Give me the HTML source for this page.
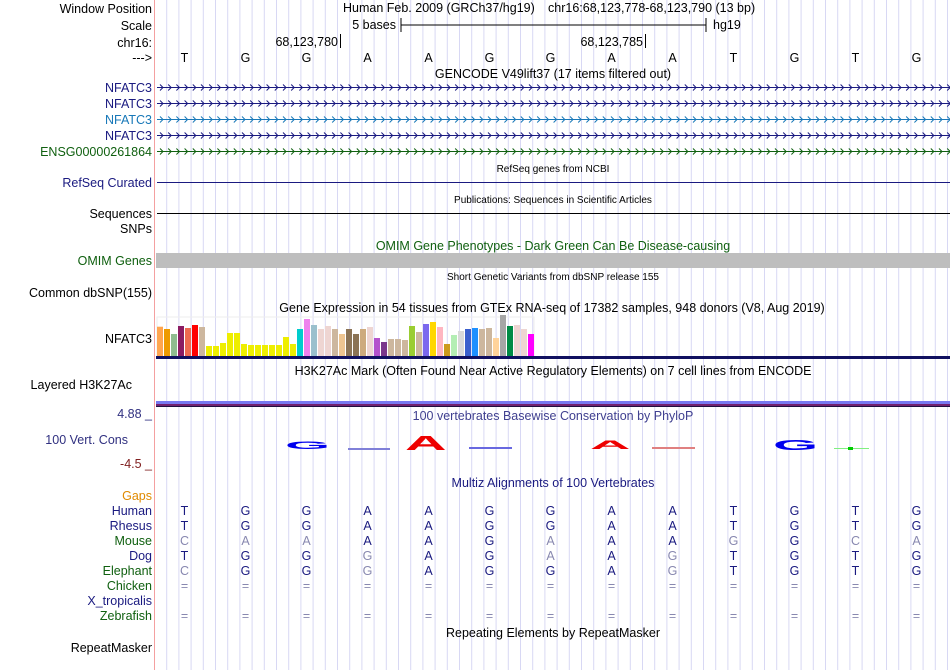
<!DOCTYPE html>
<html><head><meta charset="utf-8"><style>
body{margin:0;background:#fff}
svg{display:block;font-family:"Liberation Sans",sans-serif}
</style></head><body>
<svg id="c" width="950" height="670" viewBox="0 0 950 670">
<rect x="0" y="0" width="950" height="670" fill="#fff"/>
<g id="guides"></g>
<line x1="154.5" y1="0" x2="154.5" y2="670" stroke="#f4a0a0"/>
<g font-size="12.5" text-anchor="end">
<text x="152" y="13" fill="#000">Window Position</text>
<text x="152" y="30" fill="#000">Scale</text>
<text x="152" y="47" fill="#000">chr16:</text>
<text x="152" y="62" fill="#000">---&gt;</text>
<text x="152" y="92" fill="#1a1a80">NFATC3</text>
<text x="152" y="108" fill="#1a1a80">NFATC3</text>
<text x="152" y="124" fill="#1878b8">NFATC3</text>
<text x="152" y="140" fill="#1a1a80">NFATC3</text>
<text x="152" y="156" fill="#106010">ENSG00000261864</text>
<text x="152" y="187" fill="#1a1a80">RefSeq Curated</text>
<text x="152" y="218" fill="#000">Sequences</text>
<text x="152" y="233" fill="#000">SNPs</text>
<text x="152" y="265" fill="#106010">OMIM Genes</text>
<text x="152" y="297" fill="#000">Common dbSNP(155)</text>
<text x="152" y="343" fill="#000">NFATC3</text>
<text x="132" y="389" fill="#000">Layered H3K27Ac</text>
<text x="152" y="418" fill="#303080">4.88 _</text>
<text x="128" y="444" fill="#303080">100 Vert. Cons</text>
<text x="152" y="468" fill="#802020">-4.5 _</text>
<text x="152" y="500" fill="#e08a00">Gaps</text>
<text x="152" y="515" fill="#1a1a80">Human</text>
<text x="152" y="530" fill="#1a1a80">Rhesus</text>
<text x="152" y="545" fill="#106010">Mouse</text>
<text x="152" y="560" fill="#1a1a80">Dog</text>
<text x="152" y="575" fill="#106010">Elephant</text>
<text x="152" y="590" fill="#106010">Chicken</text>
<text x="152" y="605" fill="#1a1a80">X_tropicalis</text>
<text x="152" y="620" fill="#106010">Zebrafish</text>
<text x="152" y="652" fill="#000">RepeatMasker</text>
</g>
<g font-size="12.5" fill="#000">
<text x="343" y="12">Human Feb. 2009 (GRCh37/hg19)</text>
<text x="548" y="12">chr16:68,123,778-68,123,790 (13 bp)</text>
<text x="396" y="29" text-anchor="end">5 bases</text>
<line x1="401" y1="25" x2="706" y2="25" stroke="#000"/>
<line x1="401" y1="18" x2="401" y2="32" stroke="#000"/>
<line x1="706" y1="18" x2="706" y2="32" stroke="#000"/>
<text x="713" y="29">hg19</text>
<text x="338" y="46" text-anchor="end">68,123,780</text>
<line x1="340.5" y1="34" x2="340.5" y2="48" stroke="#000"/>
<text x="643" y="46" text-anchor="end">68,123,785</text>
<line x1="645.5" y1="34" x2="645.5" y2="48" stroke="#000"/>
<text x="553" y="78" text-anchor="middle">GENCODE V49lift37 (17 items filtered out)</text>
</g>
<g id="bases" font-size="12.5" text-anchor="middle"></g>
<g id="genes"></g>
<g font-size="10" fill="#000" text-anchor="middle">
<text x="553" y="172">RefSeq genes from NCBI</text>
<text x="553" y="203">Publications: Sequences in Scientific Articles</text>
<text x="553" y="280">Short Genetic Variants from dbSNP release 155</text>
</g>
<line x1="157" y1="182.5" x2="950" y2="182.5" stroke="#1a1a80"/>
<line x1="157" y1="213.5" x2="950" y2="213.5" stroke="#000"/>
<text x="553" y="250" font-size="12.5" fill="#106010" text-anchor="middle">OMIM Gene Phenotypes - Dark Green Can Be Disease-causing</text>
<rect x="156" y="253" width="794" height="15" fill="#bebebe"/>
<text x="552" y="312" font-size="12.5" fill="#000" text-anchor="middle">Gene Expression in 54 tissues from GTEx RNA-seq of 17382 samples, 948 donors (V8, Aug 2019)</text>
<rect x="157" y="317" width="377" height="40" fill="none" stroke="#eee"/>
<g id="gtex"></g>
<rect x="156" y="356" width="794" height="3" fill="#101060"/>
<text x="553" y="375" font-size="12.5" fill="#000" text-anchor="middle">H3K27Ac Mark (Often Found Near Active Regulatory Elements) on 7 cell lines from ENCODE</text>
<rect x="156" y="401" width="794" height="3" fill="#7878f0"/>
<rect x="156" y="404" width="794" height="2" fill="#702070"/>
<rect x="156" y="406" width="794" height="1" fill="#201040"/>
<text x="553" y="420" font-size="12.5" fill="#404090" text-anchor="middle">100 vertebrates Basewise Conservation by PhyloP</text>
<g font-family="Liberation Sans,sans-serif" font-weight="bold">
<text x="0" y="0" font-size="20" fill="#0000ee" transform="translate(285,449) scale(2.9,0.55)">G</text>
<rect x="348" y="448" width="42" height="2" fill="#8080d8"/>
<text x="0" y="0" font-size="24" fill="#ee0000" transform="translate(405,450) scale(2.4,0.85)">A</text>
<rect x="469" y="447" width="43" height="2" fill="#6868e0"/>
<text x="0" y="0" font-size="20" fill="#ee0000" transform="translate(590,449) scale(2.8,0.6)">A</text>
<rect x="652" y="447" width="43" height="2" fill="#e08080"/>
<text x="0" y="0" font-size="20" fill="#0000ee" transform="translate(773,450) scale(2.9,0.72)">G</text>
<rect x="834" y="448" width="35" height="1" fill="#80f080"/>
<rect x="848" y="447" width="5" height="3" fill="#00cc00"/>
</g>
<text x="553" y="487" font-size="12.5" fill="#1a1a80" text-anchor="middle">Multiz Alignments of 100 Vertebrates</text>
<g id="align" font-size="12.5" text-anchor="middle"></g>
<text x="553" y="637" font-size="12.5" fill="#000" text-anchor="middle">Repeating Elements by RepeatMasker</text>
</svg>
<script>
const NS='http://www.w3.org/2000/svg';
const bases=['T','G','G','A','A','G','G','A','A','T','G','T','G'];
const alignRows=[
 ['T','G','G','A','A','G','G','A','A','T','G','T','G'],
 ['T','G','G','A','A','G','G','A','A','T','G','T','G'],
 ['C','A','A','A','A','G','A','A','A','G','G','C','A'],
 ['T','G','G','G','A','G','A','A','G','T','G','T','G'],
 ['C','G','G','G','A','G','G','A','G','T','G','T','G'],
 ['=','=','=','=','=','=','=','=','=','=','=','=','='],
 ['','','','','','','','','','','','',''],
 ['=','=','=','=','=','=','=','=','=','=','=','=','=']
];
const gtexValues=[29.3,27,22,30,28,31,29,10,10,13,23,23,12,11,11,11,11,11,19,12,27,37,31,27,30,27,22,27,22,27,29,18,14,17,17,16,30,24,32,34,29,12,21,25,27,28,27,28,18,41,30,31,27,22];
const gtexColors=['#FFA54F','#EE9A00','#8FBC8F','#8B1C62','#EE6A50','#FF0000','#CDB79E','#EEEE00','#EEEE00','#EEEE00','#EEEE00','#EEEE00','#EEEE00','#EEEE00','#EEEE00','#EEEE00','#EEEE00','#EEEE00','#EEEE00','#EEEE00','#00CDCD','#EE82EE','#9AC0CD','#EED5D2','#EED5D2','#CDB79E','#EEC591','#8B7355','#8B7355','#CDAA7D','#EED5D2','#B452CD','#7A378B','#CDB79E','#CDB79E','#CDB79E','#9ACD32','#CDB79E','#7B68EE','#FFD700','#FFB6C1','#CD9B1D','#B4EEB4','#D9D9D9','#3A5FCD','#1E90FF','#CDB79E','#CDB79E','#FFD39B','#A6A6A6','#008B45','#EED5D2','#EED5D2','#FF00FF'];
const X0=157,BW=61;
function xBase(i){return X0+BW*(i+0.5)-3;}
function el(tag,attrs,parent){const e=document.createElementNS(NS,tag);for(const k in attrs)e.setAttribute(k,attrs[k]);parent.appendChild(e);return e;}
const g=document.getElementById('guides');
for(let x=166.7;x<950;x+=12.2){const l=el('line',{x1:x.toFixed(1),y1:0,x2:x.toFixed(1),y2:670,stroke:'#d8d8f4'},g);

}
const bg=document.getElementById('bases');
bases.forEach((b,i)=>{const t=el('text',{x:xBase(i),y:62,fill:'#000'},bg);t.textContent=b;

});
const gg=document.getElementById('genes');
const gy=[87,103,119,135,151],gc=['#1a1a80','#1a1a80','#1878b8','#1a1a80','#106010'];
gy.forEach((y,k)=>{
 const row=el('g',{},gg);
 
 
 el('line',{x1:157,y1:y+0.5,x2:950,y2:y+0.5,stroke:gc[k]},row);
 let d='';for(let x=160;x<948;x+=8.2){d+=`M${x.toFixed(1)} ${y-2.5}L${(x+3).toFixed(1)} ${y+0.5}L${x.toFixed(1)} ${y+3.5}`;}
 el('path',{d:d,stroke:gc[k],fill:'none','stroke-width':1},row);
});
const gb=document.getElementById('gtex');
const base=356,scale=1.0;
gtexValues.forEach((v,i)=>{const h=v*scale;const r=el('rect',{x:157+7*i,y:(base-h).toFixed(1),width:6,height:h.toFixed(1),fill:gtexColors[i]},gb);

});
const ag=document.getElementById('align');
alignRows.forEach((row,r)=>{row.forEach((c,i)=>{if(!c)return;
 const same=(c===alignRows[0][i]);
 const col=c==='='?'#8888b0':(same?'#1a1a80':'#8888b0');
 const t=el('text',{x:xBase(i),y:515+15*r,fill:col},ag);t.textContent=c;
 
 });});
</script>
</body></html>
